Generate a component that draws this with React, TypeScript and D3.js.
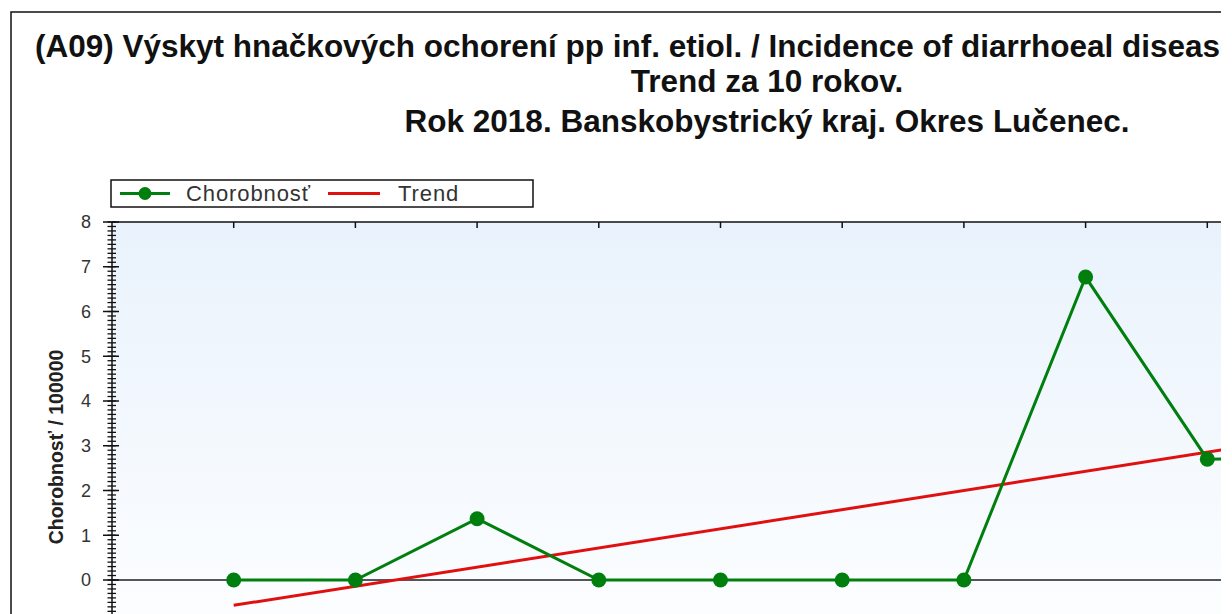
import React from "react";
import * as d3 from "d3";

const years = [2009, 2010, 2011, 2012, 2013, 2014, 2015, 2016, 2017, 2018];
const incidence = [0, 0, 1.37, 0, 0, 0, 0, 6.77, 2.7, 2.74];
const yTicks = [0, 1, 2, 3, 4, 5, 6, 7, 8];
const titleLines = [
  "(A09) Výskyt hnačkových ochorení pp inf. etiol. / Incidence of diarrhoeal diseases of inf. origin",
  "Trend za 10 rokov.",
  "Rok 2018. Banskobystrický kraj. Okres Lučenec.",
];
const legendLabels = ["Chorobnosť", "Trend"];
const yTitle = "Chorobnosť / 100000";

const W = 1232;
const H = 614;
const CLIPW = 1221;
const plotLeft = 112;
const plotTop = 222;
const plotBottom = 760;
const centerX = 767;

export default function App() {
  const x = d3.scaleLinear().domain([2008, 2019]).range([plotLeft, plotLeft + 11 * 121.7]);
  const y = d3.scaleLinear().domain([0, 8]).range([580, plotTop]);

  // linear regression trend
  const n = years.length;
  const mx = d3.mean(years) as number;
  const my = d3.mean(incidence) as number;
  let sxy = 0, sxx = 0;
  years.forEach((yr, i) => {
    sxy += (yr - mx) * (incidence[i] - my);
    sxx += (yr - mx) * (yr - mx);
  });
  const slope = sxy / sxx;
  const trend = (yr: number) => my + slope * (yr - mx);
  const trendPts: [number, number][] = [years[0], years[n - 1]].map((yr) => [x(yr), y(trend(yr))]);

  const line = d3.line<number>().x((_, i) => x(years[i])).y((v) => y(v));

  const minorTicks = d3.range(-3, 8.001, 0.1).map((v) => Math.round(v * 10) / 10);

  return (
    <svg width={W} height={H} style={{ position: "absolute", left: 0, top: 0, background: "#fff" }} fontFamily="Arial, 'Liberation Sans', sans-serif">
      <defs>
        <clipPath id="chartClip">
          <rect x={0} y={0} width={CLIPW} height={H} />
        </clipPath>
        <clipPath id="plotClip">
          <rect x={plotLeft} y={plotTop} width={CLIPW - plotLeft} height={plotBottom - plotTop} />
        </clipPath>
        <linearGradient id="bg" x1="0" y1="0" x2="0" y2="1">
          <stop offset="0%" stopColor="#e9f2fc" />
          <stop offset="70%" stopColor="#fbfdff" />
          <stop offset="100%" stopColor="#ffffff" />
        </linearGradient>
      </defs>
      <rect x={0} y={0} width={W} height={H} fill="#fff" />
      <g clipPath="url(#chartClip)">
        {/* outer border */}
        <rect x={11} y={12} width={1600} height={800} fill="none" stroke="#111" strokeWidth={1.5} />
        {/* title */}
        <text x={35} y={57} fontSize={31.5} fontWeight="bold" fill="#111">{titleLines[0]}</text>
        <text x={centerX} y={92} fontSize={31.5} fontWeight="bold" fill="#111" textAnchor="middle">{titleLines[1]}</text>
        <text x={centerX} y={132} fontSize={31.5} fontWeight="bold" fill="#111" textAnchor="middle">{titleLines[2]}</text>

        {/* plot background */}
        <rect x={plotLeft} y={plotTop} width={1600} height={plotBottom - plotTop} fill="url(#bg)" />

        {/* legend */}
        <rect x={111} y={180} width={422} height={27} fill="#fff" stroke="#111" strokeWidth={1.5} />
        <line x1={120} x2={170} y1={193.5} y2={193.5} stroke="#007f0e" strokeWidth={3} />
        <circle cx={145} cy={193.5} r={6.5} fill="#007f0e" />
        <text x={186} y={201} fontSize={22} letterSpacing={0.9} fill="#333">{legendLabels[0]}</text>
        <line x1={328} x2={380} y1={193.5} y2={193.5} stroke="#e01010" strokeWidth={3} />
        <text x={398} y={201} fontSize={22} letterSpacing={0.9} fill="#333">{legendLabels[1]}</text>

        {/* top border with ticks */}
        <line x1={plotLeft} x2={1600} y1={plotTop} y2={plotTop} stroke="#111" strokeWidth={1.5} />
        {years.map((yr) => (
          <line key={yr} x1={x(yr)} x2={x(yr)} y1={plotTop} y2={plotTop + 6} stroke="#111" strokeWidth={1.5} />
        ))}

        <g clipPath="url(#plotClip)">
          {/* zero line */}
          <line x1={plotLeft} x2={1600} y1={y(0)} y2={y(0)} stroke="#555" strokeWidth={2} />
          {/* trend */}
          <line x1={trendPts[0][0]} y1={trendPts[0][1]} x2={trendPts[1][0]} y2={trendPts[1][1]} stroke="#e01010" strokeWidth={3} />
          {/* series */}
          <path d={line(incidence) || ""} fill="none" stroke="#007f0e" strokeWidth={3} />
          {incidence.map((v, i) => (
            <circle key={i} cx={x(years[i])} cy={y(v)} r={7.5} fill="#007f0e" />
          ))}
        </g>

        {/* y axis */}
        <line x1={plotLeft} x2={plotLeft} y1={plotTop} y2={H} stroke="#111" strokeWidth={1.5} />
        {minorTicks.map((v) => (
          <line key={"m" + v} x1={plotLeft - 4.5} x2={plotLeft + 4} y1={y(v)} y2={y(v)} stroke="#111" strokeWidth={1.3} />
        ))}
        {yTicks.map((v) => (
          <g key={v}>
            <line x1={plotLeft - 9} x2={plotLeft + 7} y1={y(v)} y2={y(v)} stroke="#111" strokeWidth={1.5} />
            <text x={91} y={y(v)} dy="0.35em" fontSize={18} fill="#333" textAnchor="end">{v}</text>
          </g>
        ))}
        <text transform={`translate(63,447) rotate(-90)`} fontSize={19.5} fontWeight="bold" fill="#222" textAnchor="middle">{yTitle}</text>
      </g>
    </svg>
  );
}
